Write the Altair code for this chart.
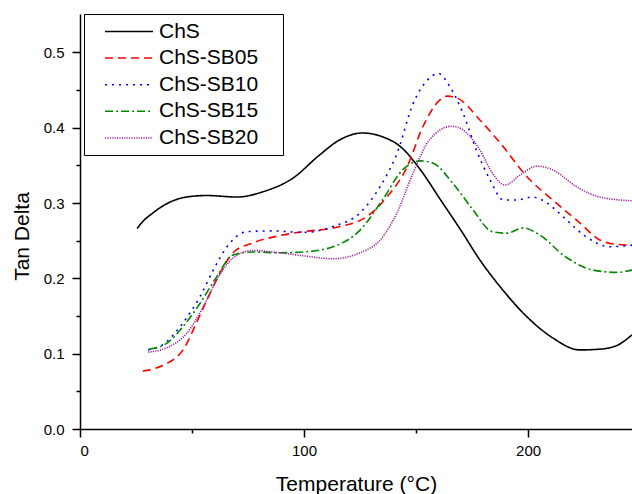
import altair as alt
import pandas as pd

series = ["ChS", "ChS-SB05", "ChS-SB10", "ChS-SB15", "ChS-SB20"]
colors = ["#000000", "#ff0000", "#0000ff", "#008800", "#a020a0"]
dashes = [[1, 0], [8, 5], [2, 5], [8, 3, 2, 3], [1.2, 1.2]]

chs_x = [25.5, 27, 32.6, 40, 47.6, 56.6, 70, 81.7, 95, 107, 116, 126, 135, 143, 152, 161, 170, 178.6, 187.5, 199.5, 211, 223, 232, 239.7, 246.4]
chs_y = [0.266, 0.272, 0.287, 0.301, 0.308, 0.310, 0.308, 0.315, 0.333, 0.364, 0.384, 0.393, 0.388, 0.375, 0.344, 0.304, 0.264, 0.224, 0.189, 0.149, 0.121, 0.105, 0.106, 0.111, 0.125]

sb05_x = [28, 33, 38.8, 46, 52, 56.6, 62.5, 68.3, 77, 88, 99.6, 113, 128, 137, 146, 153, 160.7, 164, 168, 178.6, 187.5, 199.5, 211, 223, 232, 240, 246.4]
sb05_y = [0.077, 0.080, 0.087, 0.105, 0.141, 0.171, 0.207, 0.234, 0.247, 0.256, 0.262, 0.267, 0.282, 0.308, 0.348, 0.401, 0.437, 0.442, 0.440, 0.410, 0.380, 0.335, 0.304, 0.274, 0.251, 0.245, 0.244]

sb10_x = [30.4, 37, 46, 53.6, 59.5, 65.6, 74.5, 86, 99.6, 113, 125, 134, 141.5, 148.7, 155, 160, 165, 171, 177, 183, 189, 195, 202, 208.5, 217, 226, 236.6, 246.4]
sb10_y = [0.105, 0.112, 0.141, 0.176, 0.211, 0.242, 0.262, 0.263, 0.261, 0.269, 0.287, 0.322, 0.366, 0.432, 0.463, 0.472, 0.455, 0.419, 0.370, 0.331, 0.304, 0.304, 0.308, 0.300, 0.278, 0.255, 0.242, 0.244]

sb15_x = [31, 38.8, 46, 53.6, 61, 68.3, 77, 89, 99.6, 113, 125, 135, 144, 152, 157.6, 166.5, 175.4, 184, 190.6, 198, 205, 217, 229, 239.7, 246.4]
sb15_y = [0.106, 0.114, 0.136, 0.167, 0.202, 0.231, 0.235, 0.234, 0.235, 0.242, 0.264, 0.304, 0.344, 0.356, 0.353, 0.326, 0.291, 0.262, 0.260, 0.267, 0.258, 0.228, 0.211, 0.208, 0.211]

sb20_x = [30.4, 38.8, 47.6, 55, 61, 68.3, 77, 89, 99.6, 113, 125, 134, 141.5, 148.7, 156, 166, 171, 178.6, 184, 189.7, 196.4, 204, 211, 222, 232, 246.4]
sb20_y = [0.102, 0.108, 0.127, 0.162, 0.198, 0.227, 0.237, 0.234, 0.230, 0.226, 0.234, 0.251, 0.287, 0.340, 0.384, 0.402, 0.397, 0.370, 0.340, 0.324, 0.337, 0.349, 0.344, 0.321, 0.308, 0.303]

x_ticks = [0, 50, 100, 150, 200]
y_ticks = [0.0, 0.05, 0.1, 0.15, 0.2, 0.25, 0.3, 0.35, 0.4, 0.45, 0.5]

rows = []
for name, xs, ys in zip(series, [chs_x, sb05_x, sb10_x, sb15_x, sb20_x],
                        [chs_y, sb05_y, sb10_y, sb15_y, sb20_y]):
    for i, (a, b) in enumerate(zip(xs, ys)):
        rows.append({"series": name, "temp": a, "tan": b, "idx": i})
df = pd.DataFrame(rows)

FONT = "Liberation Sans"

legend = alt.Legend(
    orient="none", legendX=4, legendY=0, title=None,
    strokeColor="black", fillColor="white", padding=7,
    symbolType="M-2.667,0H2.667M16,0", symbolSize=324, symbolStrokeWidth=1.5,
    symbolOffset=27.5, labelOffset=19.5, labelFontSize=21, labelFont=FONT,
    labelColor="black", rowPadding=4.6, labelLimit=300,
)

chart = alt.Chart(df).mark_line(interpolate="monotone", clip=True, strokeWidth=1.6).encode(
    x=alt.X("temp:Q",
            scale=alt.Scale(domain=[0, 246.4], nice=False, zero=False),
            axis=alt.Axis(title="Temperature (°C)", values=x_ticks, format="d",
                          labelExpr="datum.value % 100 == 0 ? datum.label : ''",
                          tickSize={"condition": {"test": "datum.value % 100 == 0", "value": 8}, "value": 4},
                          labelPadding=6, titleY=61, titleBaseline="alphabetic")),
    y=alt.Y("tan:Q",
            scale=alt.Scale(domain=[0, 0.551], nice=False, zero=False),
            axis=alt.Axis(title="Tan Delta", values=y_ticks, format=".1f",
                          labelExpr="abs(datum.value*10 - round(datum.value*10)) < 0.001 ? datum.label : ''",
                          tickSize={"condition": {"test": "abs(datum.value*10 - round(datum.value*10)) < 0.001", "value": 8}, "value": 4},
                          labelPadding=8, titleX=-52, titleY=222, titleBaseline="alphabetic")),
    color=alt.Color("series:N", scale=alt.Scale(domain=series, range=colors), legend=legend),
    strokeDash=alt.StrokeDash("series:N", scale=alt.Scale(domain=series, range=dashes), legend=legend),
    order="idx:Q",
).properties(
    width=552, height=415,
    autosize=alt.AutoSizeParams(type="none"),
    padding={"left": 80, "top": 14, "right": 0, "bottom": 65},
    background="white",
).configure_view(stroke=None).configure_axis(
    domainColor="black", domainWidth=1.5, tickColor="black", tickWidth=1.5,
    labelFont=FONT, labelFontSize=15, labelColor="black",
    titleFont=FONT, titleFontSize=21, titleColor="black", titleFontWeight="normal",
    grid=False,
)

chart.save("out.html", embed_options={"renderer": "svg", "actions": False})
